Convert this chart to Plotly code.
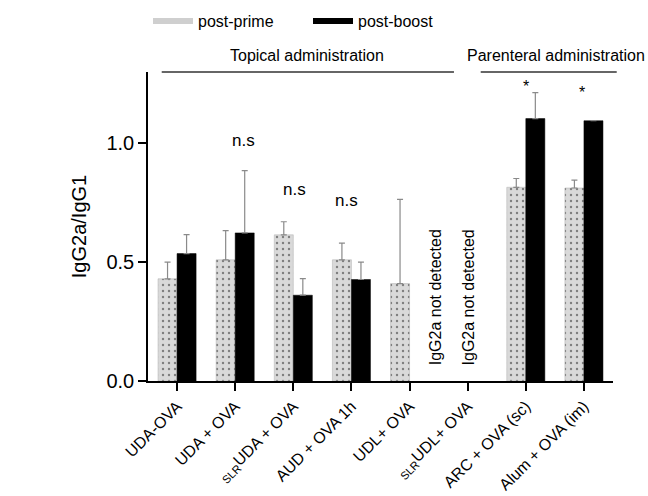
import plotly.graph_objects as go

categories = ["UDA-OVA", "UDA + OVA", "<sub>SLR</sub>UDA + OVA", "AUD + OVA 1h",
              "UDL+ OVA", "<sub>SLR</sub>UDL+ OVA", "ARC + OVA (sc)", "Alum + OVA (im)"]
post_prime = [0.43, 0.51, 0.615, 0.51, 0.41, None, 0.815, 0.812]
post_prime_err = [0.07, 0.123, 0.055, 0.07, 0.354, None, 0.037, 0.033]
post_boost = [0.536, 0.623, 0.361, 0.427, None, None, 1.104, 1.095]
post_boost_err = [0.08, 0.262, 0.07, 0.073, None, None, 0.109, None]

x = list(range(len(categories)))
FONT = "Arial, Liberation Sans, sans-serif"

fig = go.Figure()
fig.add_trace(go.Bar(
    x=x, y=post_prime, name="post-prime", legendgroup="prime", showlegend=False,
    marker=dict(color="#d9d9d9", line=dict(color="#b0b0b0", width=0.5),
                pattern=dict(shape=".", fgcolor="#222222", bgcolor="#d9d9d9",
                             size=6, solidity=0.12)),
    error_y=dict(type="data", symmetric=False, array=post_prime_err,
                 arrayminus=[0] * len(x), color="#8a8a8a", thickness=1.2, width=3),
))
fig.add_trace(go.Bar(
    x=x, y=post_boost, name="post-boost", legendgroup="boost", showlegend=False,
    marker=dict(color="black", line=dict(color="black", width=0.5)),
    error_y=dict(type="data", symmetric=False, array=post_boost_err,
                 arrayminus=[0] * len(x), color="#8a8a8a", thickness=1.2, width=3),
))
# legend swatches (wide, flat rectangles like the reference)
fig.add_trace(go.Scatter(x=[None], y=[None], mode="lines", name="post-prime",
                         legendgroup="prime", line=dict(color="#cfcfcf", width=6)))
fig.add_trace(go.Scatter(x=[None], y=[None], mode="lines", name="post-boost",
                         legendgroup="boost", line=dict(color="black", width=6)))

annotations = []
for xi, yi, t in [(1.14, 1.013, "n.s"), (2.02, 0.807, "n.s"), (2.91, 0.758, "n.s")]:
    annotations.append(dict(x=xi, y=yi, xref="x", yref="y", text=t, showarrow=False,
                            xanchor="center", yanchor="middle",
                            font=dict(size=17, color="black", family=FONT)))
for xi, yi in [(6.0, 1.24), (6.97, 1.215)]:
    annotations.append(dict(x=xi, y=yi, xref="x", yref="y", text="*", showarrow=False,
                            xanchor="center", yanchor="middle",
                            font=dict(size=16, color="black", family=FONT)))
for xi in [4.45, 5.02]:
    annotations.append(dict(x=xi, y=0.351, xref="x", yref="y", text="IgG2a not detected",
                            textangle=-90, showarrow=False, xanchor="center", yanchor="middle",
                            font=dict(size=16, color="black", family=FONT)))
annotations.append(dict(x=0.343, y=1.055, xref="paper", yref="paper",
                        text="Topical administration", showarrow=False,
                        xanchor="center", yanchor="middle",
                        font=dict(size=16, color="black", family=FONT)))
annotations.append(dict(x=0.877, y=1.055, xref="paper", yref="paper",
                        text="Parenteral administration", showarrow=False,
                        xanchor="center", yanchor="middle",
                        font=dict(size=16, color="black", family=FONT)))

shapes = [
    dict(type="line", xref="paper", yref="paper", x0=0.0295, x1=0.658, y0=1.0, y1=1.0,
         line=dict(color="#333333", width=1.5)),
    dict(type="line", xref="paper", yref="paper", x0=0.7155, x1=1.008, y0=1.0, y1=1.0,
         line=dict(color="#333333", width=1.5)),
]

fig.update_layout(
    width=648, height=496,
    margin=dict(l=148, r=35, t=72, b=115, autoexpand=False),
    paper_bgcolor="white", plot_bgcolor="white",
    barmode="group", bargap=0.345, bargroupgap=0,
    font=dict(family=FONT, color="black"),
    showlegend=True,
    legend=dict(orientation="h", x=0.0, xanchor="left", y=1.165, yanchor="middle",
                font=dict(size=16, family=FONT), entrywidth=105, entrywidthmode="pixels",
                itemwidth=40, bgcolor="rgba(0,0,0,0)"),
    annotations=annotations,
    shapes=shapes,
)
fig.update_xaxes(
    range=[-0.5, 7.5], tickmode="array", tickvals=x, ticktext=categories,
    tickangle=-45, tickfont=dict(size=16, family=FONT, color="black"),
    showline=True, linecolor="black", linewidth=1.5, automargin=False,
    ticks="outside", ticklen=8, tickwidth=1.5, tickcolor="black",
    showgrid=False, zeroline=False,
)
fig.update_yaxes(
    range=[0, 1.3], tickvals=[0, 0.5, 1.0], tickformat=".1f",
    tickfont=dict(size=20, family=FONT, color="black"),
    title=dict(text="IgG2a/IgG1", font=dict(size=20, family=FONT, color="black"), standoff=14),
    showline=True, linecolor="black", linewidth=1.5, automargin=False,
    ticks="outside", ticklen=8, tickwidth=1.5, tickcolor="black",
    showgrid=False, zeroline=False,
)

fig.write_html("out.html")
